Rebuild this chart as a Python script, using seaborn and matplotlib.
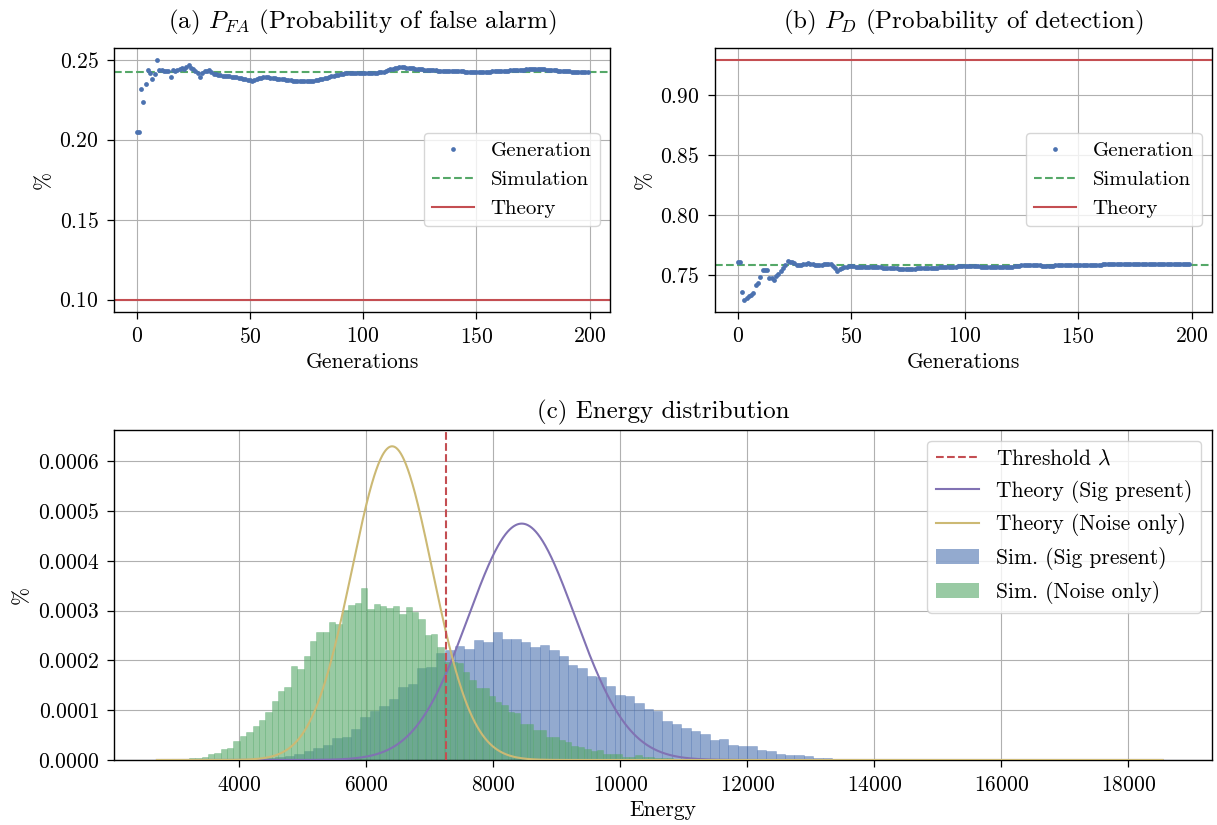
import numpy as np
import pandas as pd
import matplotlib
matplotlib.use("Agg")
import matplotlib.pyplot as plt
from matplotlib.lines import Line2D
from matplotlib.patches import Patch
from matplotlib.ticker import MultipleLocator
import seaborn as sns

# ---------------- data ----------------
generations = list(range(200))

pfa_generation = [
    0.2048, 0.2048, 0.2316, 0.2235, 0.2347, 0.2437, 0.2416, 0.2383, 0.2410, 0.2502,
    0.2437, 0.2437, 0.2433, 0.2428, 0.2430, 0.2395, 0.2437, 0.2431, 0.2436, 0.2443,
    0.2446, 0.2441, 0.2455, 0.2467, 0.2446, 0.2440, 0.2428, 0.2415, 0.2395, 0.2415,
    0.2428, 0.2433, 0.2437, 0.2425, 0.2410, 0.2413, 0.2408, 0.2405, 0.2400, 0.2398,
    0.2400, 0.2398, 0.2395, 0.2393, 0.2390, 0.2388, 0.2385, 0.2383, 0.2378, 0.2374,
    0.2372, 0.2370, 0.2375, 0.2382, 0.2386, 0.2388, 0.2390, 0.2391, 0.2390, 0.2388,
    0.2386, 0.2384, 0.2382, 0.2380, 0.2379, 0.2378, 0.2376, 0.2374, 0.2372, 0.2370,
    0.2369, 0.2368, 0.2367, 0.2367, 0.2366, 0.2366, 0.2367, 0.2368, 0.2370, 0.2372,
    0.2374, 0.2377, 0.2380, 0.2384, 0.2388, 0.2392, 0.2396, 0.2400, 0.2404, 0.2408,
    0.2412, 0.2414, 0.2416, 0.2416, 0.2416, 0.2415, 0.2415, 0.2416, 0.2416, 0.2417,
    0.2417, 0.2417, 0.2418, 0.2418, 0.2419, 0.2419, 0.2420, 0.2421, 0.2423, 0.2426,
    0.2430, 0.2435, 0.2440, 0.2445, 0.2449, 0.2452, 0.2454, 0.2455, 0.2454, 0.2452,
    0.2450, 0.2448, 0.2446, 0.2444, 0.2442, 0.2441, 0.2440, 0.2439, 0.2438, 0.2437,
    0.2436, 0.2435, 0.2434, 0.2433, 0.2433, 0.2432, 0.2432, 0.2431, 0.2431, 0.2430,
    0.2430, 0.2429, 0.2429, 0.2428, 0.2428, 0.2427, 0.2427, 0.2426, 0.2426, 0.2425,
    0.2425, 0.2425, 0.2425, 0.2425, 0.2426, 0.2426, 0.2427, 0.2428, 0.2429, 0.2430,
    0.2431, 0.2432, 0.2432, 0.2433, 0.2433, 0.2434, 0.2434, 0.2435, 0.2436, 0.2437,
    0.2438, 0.2439, 0.2440, 0.2441, 0.2442, 0.2442, 0.2443, 0.2443, 0.2442, 0.2441,
    0.2440, 0.2439, 0.2438, 0.2437, 0.2435, 0.2434, 0.2433, 0.2432, 0.2431, 0.2430,
    0.2429, 0.2428, 0.2427, 0.2426, 0.2425, 0.2424, 0.2424, 0.2423, 0.2423, 0.2423,
]
pfa_simulation = 0.2425
pfa_theory = 0.10

pd_generation = [
    0.7606, 0.7606, 0.7352, 0.7291, 0.7305, 0.7319, 0.7333, 0.7347, 0.7410, 0.7430,
    0.7480, 0.7536, 0.7536, 0.7536, 0.7472, 0.7467, 0.7458, 0.7490, 0.7506, 0.7528,
    0.7556, 0.7584, 0.7612, 0.7606, 0.7606, 0.7600, 0.7584, 0.7580, 0.7584, 0.7588,
    0.7590, 0.7598, 0.7592, 0.7588, 0.7584, 0.7580, 0.7578, 0.7580, 0.7585, 0.7590,
    0.7592, 0.7585, 0.7575, 0.7555, 0.7530, 0.7545, 0.7556, 0.7562, 0.7566, 0.7570,
    0.7570, 0.7569, 0.7567, 0.7566, 0.7565, 0.7564, 0.7564, 0.7564, 0.7564, 0.7563,
    0.7563, 0.7562, 0.7561, 0.7560, 0.7559, 0.7558, 0.7557, 0.7556, 0.7555, 0.7553,
    0.7551, 0.7550, 0.7549, 0.7548, 0.7547, 0.7547, 0.7547, 0.7548, 0.7549, 0.7551,
    0.7553, 0.7554, 0.7555, 0.7556, 0.7557, 0.7557, 0.7558, 0.7558, 0.7559, 0.7560,
    0.7561, 0.7562, 0.7563, 0.7564, 0.7565, 0.7566, 0.7567, 0.7568, 0.7569, 0.7570,
    0.7570, 0.7570, 0.7570, 0.7569, 0.7569, 0.7568, 0.7568, 0.7567, 0.7567, 0.7566,
    0.7566, 0.7566, 0.7565, 0.7565, 0.7565, 0.7564, 0.7564, 0.7564, 0.7563, 0.7563,
    0.7563, 0.7565, 0.7568, 0.7571, 0.7574, 0.7576, 0.7577, 0.7578, 0.7578, 0.7577,
    0.7577, 0.7576, 0.7576, 0.7576, 0.7575, 0.7575, 0.7575, 0.7575, 0.7575, 0.7575,
    0.7576, 0.7576, 0.7576, 0.7577, 0.7577, 0.7577, 0.7577, 0.7578, 0.7578, 0.7578,
    0.7578, 0.7578, 0.7579, 0.7579, 0.7580, 0.7580, 0.7581, 0.7582, 0.7583, 0.7583,
    0.7584, 0.7585, 0.7586, 0.7587, 0.7588, 0.7589, 0.7590, 0.7590, 0.7591, 0.7591,
    0.7592, 0.7592, 0.7592, 0.7592, 0.7592, 0.7592, 0.7592, 0.7592, 0.7592, 0.7592,
    0.7592, 0.7592, 0.7592, 0.7592, 0.7591, 0.7591, 0.7591, 0.7590, 0.7590, 0.7590,
    0.7590, 0.7589, 0.7589, 0.7589, 0.7589, 0.7588, 0.7588, 0.7587, 0.7587, 0.7586,
]
pd_simulation = 0.7584
pd_theory = 0.930

# energy distribution
threshold = 7262
noise_mu, noise_sigma = 6409, 633      # theory (noise only)
sig_mu, sig_sigma = 8450, 840          # theory (signal present)

noise_bin_start, noise_bin_width = 2706, 100.4
noise_density_e6 = [   # simulated histogram, noise only (x 1e-6)
    0.6, 0.6, 1.0, 1.4, 2.0, 3.4, 4.0, 5.4, 12, 14, 21.5, 23.5, 37.6,
    48, 56, 68, 80, 96, 118, 139, 147, 189, 183,
    209, 239, 257, 257, 277, 273, 301, 311, 315, 345,
    303, 314, 309, 305, 309, 293, 307, 298, 283, 251,
    253, 228, 197, 197, 195, 177, 161, 144, 144, 129,
    116, 110, 97, 95, 72, 72, 60, 60, 47, 47,
    40, 36, 29, 27, 23, 17.5, 20, 12, 11.5, 12,
    6, 5.4, 10, 6, 6, 4, 4, 3.4, 2.6, 2,
    2, 1.6, 1.4, 1.2, 1.0, 0.8, 0.8, 0.6, 0.6, 0.4,
    0.4, 0.3, 0.2, 0.2, 0.1, 0.1, 0.1,
]
sig_bin_start, sig_bin_width = 3680.6, 148.6
sig_density_e6 = [     # simulated histogram, signal present (x 1e-6)
    0.2, 0.4, 0.8, 1.6, 2.6, 4, 6, 9, 12.6, 19,
    24, 31, 44, 47, 62, 87, 98, 109, 123, 147,
    152, 184, 187, 215, 221, 229, 222, 241, 238, 258,
    244, 243, 238, 228, 232, 220, 208, 190, 184, 168,
    166, 148, 130, 128, 115, 103, 98, 79, 73, 65,
    59, 53, 41, 43, 31, 29, 29, 21, 19, 12,
    10, 10, 8, 4, 4, 2, 2, 2, 1, 0.8,
    0.6, 0.6, 0.5, 0.4, 0.4, 0.3, 0.3, 0.3, 0.2, 0.2,
    0.2, 0.2, 0.15, 0.15, 0.1, 0.1, 0.1, 0.1, 0.1, 0.1,
    0.1, 0.1, 0.1, 0.1, 0.1, 0.1, 0.1, 0.1, 0.1, 0.1,
]

# ---------------- style ----------------
sns.set_palette("deep")
pal = sns.color_palette("deep")
C_BLUE, C_GREEN, C_RED, C_PURPLE, C_YELLOW = pal[0], pal[2], pal[3], pal[4], pal[8]

plt.rcParams.update({
    "font.family": "cmr10",
    "mathtext.fontset": "cm",
    "axes.unicode_minus": False,
    "axes.formatter.use_mathtext": True,
    "font.size": 15,
    "axes.titlesize": 18,
    "axes.labelsize": 15.5,
    "xtick.labelsize": 15.5,
    "ytick.labelsize": 15.5,
    "legend.fontsize": 15,
})

fig = plt.figure(figsize=(12.17, 8.25), dpi=100)
ax1 = fig.add_axes([0.0937, 0.6224, 0.4076, 0.320])
ax2 = fig.add_axes([0.5875, 0.6224, 0.4084, 0.320])
ax3 = fig.add_axes([0.0937, 0.0788, 0.9022, 0.400])


def top_panel(ax, gen_vals, sim, theo, title):
    ax.axhline(sim, color=C_GREEN, ls="--", lw=1.5, zorder=2)
    ax.axhline(theo, color=C_RED, ls="-", lw=1.5, zorder=2)
    sns.scatterplot(x=generations, y=gen_vals, ax=ax, s=12, color=C_BLUE,
                    linewidth=0, zorder=3, legend=False)
    ax.grid(True, color="#b0b0b0", lw=0.8)
    ax.set_axisbelow(True)
    ax.set_title(title, pad=14)
    ax.set_xlabel("Generations")
    ax.set_ylabel("%")
    ax.xaxis.set_major_locator(MultipleLocator(50))
    ax.yaxis.set_major_locator(MultipleLocator(0.05))
    handles = [
        Line2D([], [], ls="none", marker="o", ms=3.4, color=C_BLUE, mew=0),
        Line2D([], [], ls="--", lw=1.5, color=C_GREEN),
        Line2D([], [], ls="-", lw=1.5, color=C_RED),
    ]
    ax.legend(handles, ["Generation", "Simulation", "Theory"], loc="center right")


top_panel(ax1, pfa_generation, pfa_simulation, pfa_theory,
          "(a) $P_{FA}$ (Probability of false alarm)")
top_panel(ax2, pd_generation, pd_simulation, pd_theory,
          "(b) $P_D$ (Probability of detection)")

# bottom panel
sig_edges = sig_bin_start + sig_bin_width * np.arange(len(sig_density_e6) + 1)
noise_edges = noise_bin_start + noise_bin_width * np.arange(len(noise_density_e6) + 1)
sig_df = pd.DataFrame({"energy": 0.5 * (sig_edges[:-1] + sig_edges[1:]),
                       "w": np.array(sig_density_e6) * 1e-6})
noise_df = pd.DataFrame({"energy": 0.5 * (noise_edges[:-1] + noise_edges[1:]),
                         "w": np.array(noise_density_e6) * 1e-6})

sns.histplot(data=sig_df, x="energy", weights="w", bins=list(sig_edges),
             stat="count", color=C_BLUE, alpha=0.6, ax=ax3,
             edgecolor=(*C_BLUE, 0.35), linewidth=0.6)
sns.histplot(data=noise_df, x="energy", weights="w", bins=list(noise_edges),
             stat="count", color=C_GREEN, alpha=0.6, ax=ax3,
             edgecolor=(*C_GREEN, 0.35), linewidth=0.6)

energy = np.linspace(noise_edges[0], sig_edges[-1], 2000)
noise_pdf = np.exp(-0.5 * ((energy - noise_mu) / noise_sigma) ** 2) / (noise_sigma * np.sqrt(2 * np.pi))
sig_pdf = np.exp(-0.5 * ((energy - sig_mu) / sig_sigma) ** 2) / (sig_sigma * np.sqrt(2 * np.pi))
sns.lineplot(x=energy, y=sig_pdf, ax=ax3, color=C_PURPLE, lw=1.5, zorder=3)
sns.lineplot(x=energy, y=noise_pdf, ax=ax3, color=C_YELLOW, lw=1.5, zorder=3)
ax3.axvline(threshold, color=C_RED, ls="--", lw=1.5, zorder=4)

ax3.set_xlim(2030, 19320)
ax3.set_ylim(0, 0.000663)
ax3.xaxis.set_major_locator(MultipleLocator(2000))
ax3.yaxis.set_major_locator(MultipleLocator(0.0001))
ax3.grid(True, color="#b0b0b0", lw=0.8)
ax3.set_axisbelow(True)
ax3.set_title("(c) Energy distribution", pad=8)
ax3.set_xlabel("Energy")
ax3.set_ylabel("%")

handles = [
    Line2D([], [], ls="--", lw=1.5, color=C_RED),
    Line2D([], [], ls="-", lw=1.5, color=C_PURPLE),
    Line2D([], [], ls="-", lw=1.5, color=C_YELLOW),
    Patch(facecolor=C_BLUE, alpha=0.6),
    Patch(facecolor=C_GREEN, alpha=0.6),
]
labels = [r"Threshold $\lambda$", "Theory (Sig present)", "Theory (Noise only)",
          "Sim. (Sig present)", "Sim. (Noise only)"]
ax3.legend(handles, labels, loc="upper right", fontsize=15.5)

for ax in (ax1, ax2, ax3):
    for s in ax.spines.values():
        s.set_color("black")
        s.set_linewidth(1.0)
    ax.tick_params(colors="black", direction="out", length=5, width=0.9, pad=6)

fig.savefig("out.png", dpi=100)
